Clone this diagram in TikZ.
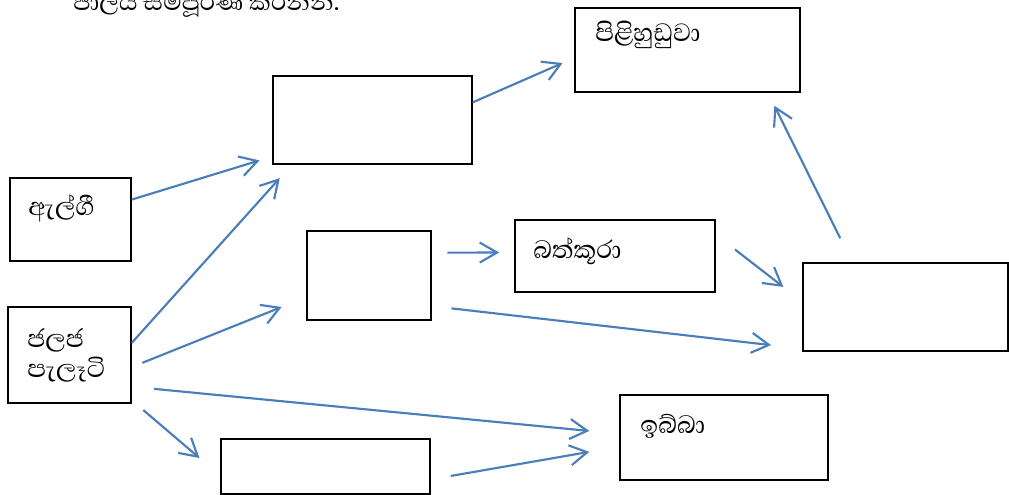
\documentclass[tikz,border=0pt]{standalone}
\usepackage{fontspec}
\setmainfont{Liberation Serif}
\newfontfamily\sinhala[Script=Sinhala]{Abhaya Libre}
\usetikzlibrary{arrows.meta}
\definecolor{arrowblue}{RGB}{74,126,187}

\begin{document}
\begin{tikzpicture}[x=0.75pt,y=-0.75pt,>={Straight Barb[length=13pt,width=15pt]}]
  \def\px{0.75pt}

\tikzstyle{box}=[draw,line width=1.1pt,inner sep=0pt]
\tikzstyle{word}=[inner sep=0pt,anchor=base west,font=\sinhala\fontsize{24}{28}\selectfont]
\tikzstyle{link}=[->,draw=arrowblue,line width=1.6pt]
\useasboundingbox (0,0) rectangle (1009,495);
% heading, cut at the top of the page
\node[word,font=\sinhala\fontsize{23}{27}\selectfont] (head) at (73,11) {ජාලය  සම්පූර්ණ කරන්න.};
% boxes
\node[box,minimum width=225*\px,minimum height=84*\px] (pili) at (687.5,50) {};
\node[word] (tpili) at (595,42) {පිළිහුඩුවා};
\node[box,minimum width=199*\px,minimum height=88*\px] (boxA) at (372.5,120) {};
\node[box,minimum width=121*\px,minimum height=83*\px] (alg) at (70.5,219.5) {};
\node[word] (talg) at (28,215) {ඇල්ගී};
\node[box,minimum width=124*\px,minimum height=89*\px] (boxB) at (369,275.5) {};
\node[box,minimum width=200*\px,minimum height=72*\px] (bat) at (615,256) {};
\node[word] (tbat) at (533,258) {බත්කූරා};
\node[box,minimum width=205*\px,minimum height=88*\px] (boxC) at (905.5,307) {};
\node[box,minimum width=123*\px,minimum height=96*\px] (plant) at (69.5,355) {};
\node[word] (tplant) at (27,347) {ජලජ};
\node[word] (tplant2) at (27,377) {පැලෑටි};
\node[box,minimum width=208*\px,minimum height=85*\px] (ibba) at (724,437.5) {};
\node[word] (tibba) at (640,433) {ඉබ්බා};
\node[box,minimum width=209*\px,minimum height=55*\px] (boxD) at (325.5,466.5) {};
% arrows
\draw[link,shorten >=10pt] (alg.18) -- (boxA.200);
\draw[link,shorten >=13.5pt] (plant.11) -- (boxA.209);
\draw[link,shorten <=8.6pt,shorten >=19.9pt] (plant.-11) -- (boxB.199);
\draw[link,shorten <=16.8pt,shorten >=22.6pt] (plant.-27) -- (ibba.178);
\draw[link,shorten <=11.4pt,shorten >=20.5pt] (plant.-36) -- (boxD.185);
\draw[link,shorten >=9.6pt] (boxA.10) -- (pili.184);
\draw[link,shorten <=11.8pt,shorten >=11.3pt] (boxB.20.5) -- (bat.178);
\draw[link,shorten <=14.9pt,shorten >=23.6pt] (boxB.-26) -- (boxC.202);
\draw[link,shorten <=18.2pt,shorten >=17.9pt] (bat.12) -- (boxC.177);
\draw[link,shorten <=20.2pt,shorten >=10.9pt] (boxC.140) -- (pili.-28);
\draw[link,shorten <=15.2pt,shorten >=22.8pt] (boxD.-7) -- (ibba.185.5);
\end{tikzpicture}
\end{document}
